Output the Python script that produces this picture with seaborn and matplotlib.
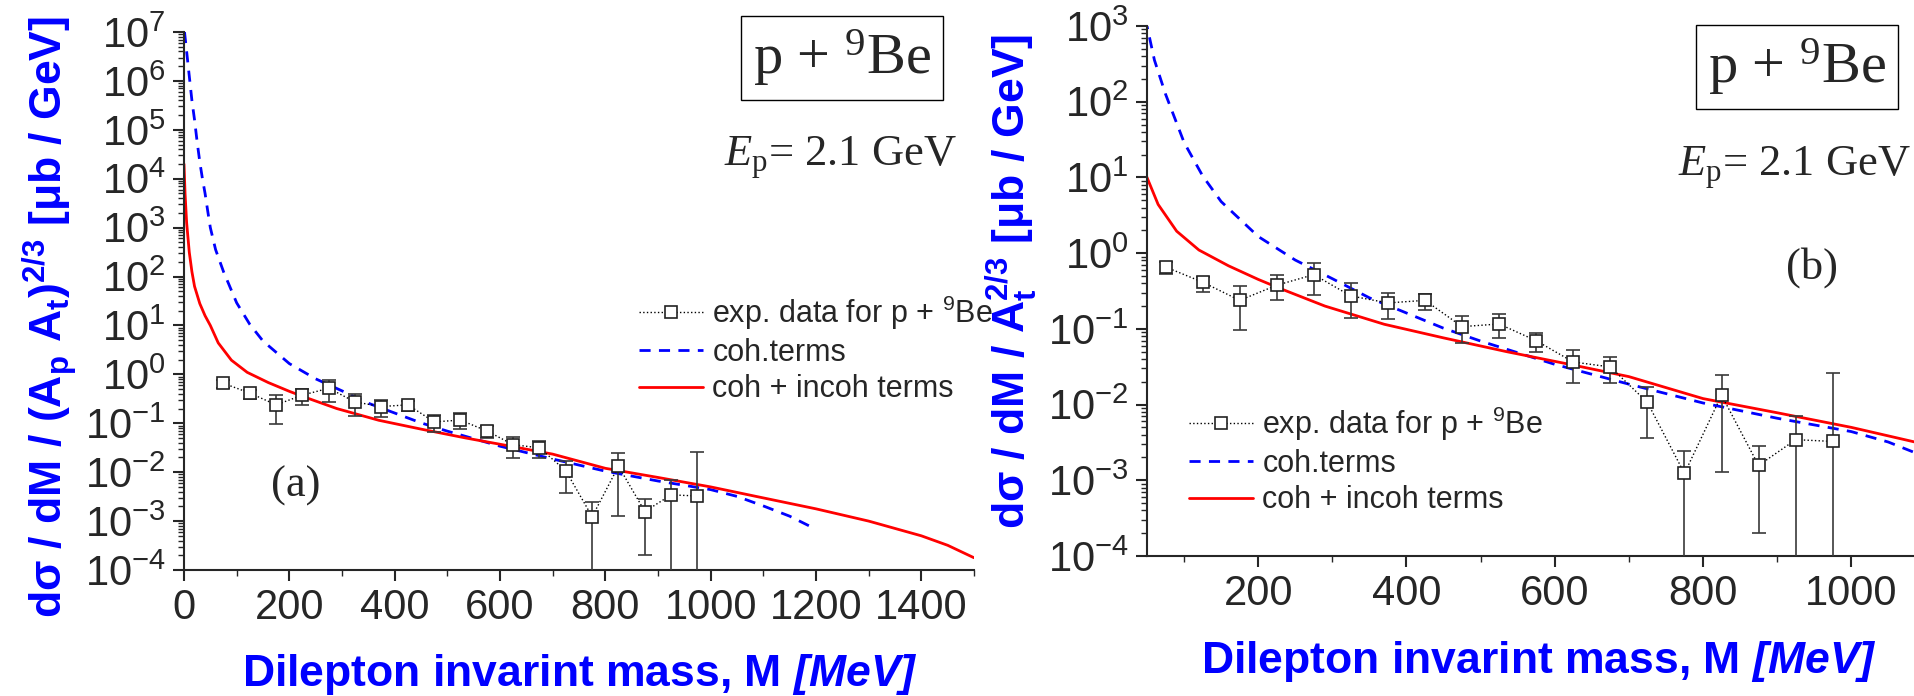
import numpy as np
import pandas as pd
import matplotlib
matplotlib.use("Agg")
import matplotlib.pyplot as plt
import seaborn as sns
from matplotlib.ticker import LogLocator, NullFormatter, MultipleLocator

# experimental points (same set shown in both panels)
exp_M = [75, 125, 175, 225, 275, 325, 375, 425, 475, 525, 575, 625, 675, 725, 775, 825, 875, 925, 975]
exp_y = [0.656, 0.414, 0.238, 0.377, 0.52, 0.272, 0.22, 0.238, 0.107, 0.116, 0.0697, 0.0365, 0.0314,
         0.0107, 0.00123, 0.0133, 0.00157, 0.00344, 0.00326]
exp_hi = [0.76, 0.49, 0.37, 0.51, 0.75, 0.40, 0.30, 0.29, 0.147, 0.159, 0.088, 0.053, 0.043,
          0.0173, 0.00245, 0.0243, 0.00288, 0.0070, 0.026]
exp_lo = [0.53, 0.31, 0.098, 0.24, 0.276, 0.139, 0.135, 0.18, 0.065, 0.075, 0.050, 0.0193, 0.0193,
          0.00367, 1e-5, 0.0013, 0.000202, 1e-5, 1e-5]

# coherent terms (blue dashed)
coh_M = [1, 5, 10, 15, 20, 25, 30, 35, 40, 45, 50, 60, 75, 100, 125, 150, 200, 250, 300, 350, 400,
         450, 500, 600, 700, 800, 900, 1000, 1050, 1100, 1150, 1200]
coh_y = [1.0e7, 4.0e6, 1.26e6, 4.0e5, 1.6e5, 5.6e4, 2.2e4, 1.0e4, 5.0e3, 2.2e3, 1.0e3, 355, 126, 29,
         10.5, 4.8, 1.66, 0.81, 0.46, 0.257, 0.162, 0.102, 0.069, 0.034, 0.0186, 0.0105, 0.0066,
         0.0044, 0.0032, 0.00204, 0.00126, 0.00068]

# coherent + incoherent terms (red solid)
tot_M = [0, 2, 5, 10, 15, 20, 30, 40, 50, 65, 90, 120, 160, 200, 230, 290, 370, 450, 535, 620, 700,
         800, 900, 1000, 1086, 1200, 1300, 1400, 1450, 1500]
tot_y = [2.0e4, 5.0e3, 1.26e3, 316, 126, 63, 28, 15.8, 10, 4.4, 1.95, 1.1, 0.68, 0.45, 0.34, 0.20,
         0.115, 0.076, 0.050, 0.034, 0.0234, 0.0120, 0.0078, 0.0050, 0.0032, 0.00178, 0.0010,
         0.0005, 0.00032, 0.000178]

W, H = 1915, 696


def fx(px):
    return px / W


def fy(py):
    return 1 - py / H


sns.set_style("ticks")
plt.rcParams['font.family'] = ['Liberation Sans', 'DejaVu Sans']
plt.rcParams['mathtext.default'] = 'regular'
plt.rcParams['mathtext.fontset'] = 'custom'
plt.rcParams['mathtext.it'] = 'Liberation Serif:italic'
plt.rcParams['mathtext.bf'] = 'Liberation Sans:bold:italic'

fig = plt.figure(figsize=(W / 100, H / 100), dpi=100)
ax1 = fig.add_axes([fx(184), fy(570), (974 - 184) / W, (570 - 32) / H])
ax2 = fig.add_axes([fx(1147), fy(556), (1915 - 1147) / W, (556 - 26) / H])

exp_yerr = [np.array(exp_y) - np.array(exp_lo), np.array(exp_hi) - np.array(exp_y)]

for ax in [ax1, ax2]:
    ax.set_yscale('log')
    sns.lineplot(x=coh_M, y=coh_y, ax=ax, color='#0000ff', lw=2.0, sort=False,
                 estimator=None, label='coh.terms')
    ax.lines[-1].set_dashes([4, 3])
    sns.lineplot(x=tot_M, y=tot_y, ax=ax, color='#ff0000', lw=2.0, sort=False, estimator=None,
                 label='coh + incoh terms')
    ax.errorbar(exp_M, exp_y, yerr=exp_yerr, fmt='none', ecolor='#3a3a3a', elinewidth=1.2,
                capsize=5, capthick=1.2, zorder=4)
    sns.lineplot(x=exp_M, y=exp_y, ax=ax, color='black', lw=1.0, ls=':', marker='s', markersize=9,
                 markerfacecolor='white', markeredgecolor='#222222', markeredgewidth=1.2,
                 sort=False, estimator=None, label=r'exp. data for p + $^{9}$Be', zorder=5)

    sns.despine(ax=ax)
    for s in ['left', 'bottom']:
        ax.spines[s].set_linewidth(1.5)
    ax.xaxis.set_major_locator(MultipleLocator(200))
    ax.xaxis.set_minor_locator(MultipleLocator(100))
    ax.yaxis.set_major_locator(LogLocator(base=10, numticks=100))
    ax.yaxis.set_minor_locator(LogLocator(base=10, subs=np.arange(2, 10), numticks=100))
    ax.yaxis.set_minor_formatter(NullFormatter())
    ax.tick_params(which='major', direction='out', length=8, width=1.5, labelsize=30, pad=5)
    ax.tick_params(which='minor', direction='out', length=4.5, width=1.0)

ax1.set_xlim(0, 1500)
ax1.set_ylim(1e-4, 1e7)
ax2.set_xlim(50, 1086)
ax2.set_ylim(1e-4, 1e3)

label_kw = dict(fontsize=32, fontweight='bold', color='#0000ff')
ax1.set_ylabel('dσ / dM / (A$_{p}$ A$_{t}$)$^{2/3}$ [μb / GeV]', **label_kw)
ax2.set_ylabel('dσ / dM / A$_{t}^{2/3}$ [μb / GeV]', **label_kw)
ax1.set_xlabel(r'Dilepton invarint mass, M $\mathbf{[MeV]}$', **label_kw)
ax2.set_xlabel(r'Dilepton invarint mass, M $\mathbf{[MeV]}$', **label_kw)
# y-label anchor is the right edge of the rotated text
ax1.yaxis.set_label_coords((80 - 184) / 790, 0.47)
ax2.yaxis.set_label_coords((1040 - 1147) / 768, 0.519)
ax1.xaxis.set_label_coords(0.501, -0.152)
ax2.xaxis.set_label_coords(0.51, -0.157)

# legends
for ax, x0, ymid in [(ax1, 639, 349), (ax2, 1189, 460)]:
    h, l = ax.get_legend_handles_labels()
    order = [2, 0, 1]
    ax.legend([h[i] for i in order], [l[i] for i in order], loc='center left',
              bbox_to_anchor=(fx(x0), fy(ymid)), bbox_transform=fig.transFigure,
              frameon=False, fontsize=22, borderpad=0, borderaxespad=0, handlelength=2.1,
              handletextpad=0.3, labelspacing=0.2)

# annotations
serif = 'Liberation Serif'
box_kw = dict(boxstyle='square,pad=0.2', fc='white', ec='black', lw=1.0)
fig.text(fx(842), fy(58), r'p + $^{9}$Be', family=serif, fontsize=42, ha='center', va='center',
         bbox=box_kw)
fig.text(fx(1797), fy(67), r'p + $^{9}$Be', family=serif, fontsize=42, ha='center', va='center',
         bbox=box_kw)
fig.text(fx(840), fy(158), r'$\mathit{E}_{p}$= 2.1 GeV', family=serif, fontsize=32,
         ha='center', va='center')
fig.text(fx(1794), fy(168), r'$\mathit{E}_{p}$= 2.1 GeV', family=serif, fontsize=32,
         ha='center', va='center')
fig.text(fx(296), fy(486), '(a)', family=serif, fontsize=32, ha='center', va='center')
fig.text(fx(1812), fy(268), '(b)', family=serif, fontsize=32, ha='center', va='center')

fig.savefig('out.png', dpi=100)
